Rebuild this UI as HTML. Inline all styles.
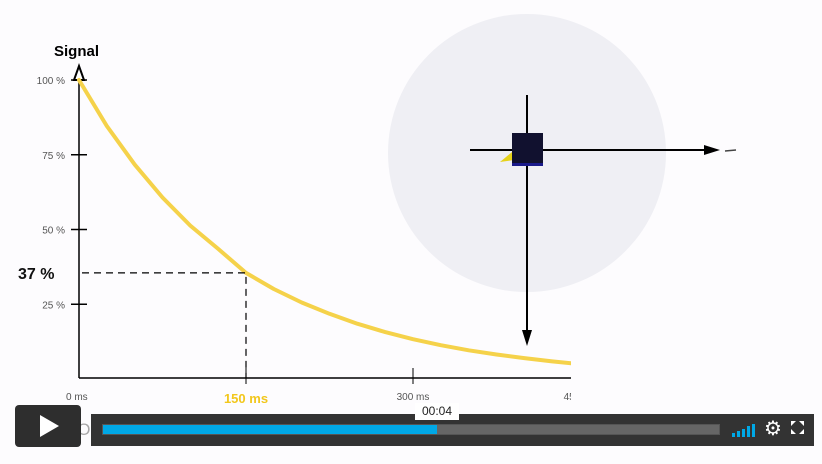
<!DOCTYPE html>
<html><head><meta charset="utf-8"><style>
body{margin:0;width:822px;height:464px;background:#fdfcfe;overflow:hidden;font-family:"Liberation Sans",sans-serif;position:relative}
</style></head><body>
<svg width="822" height="464" style="position:absolute;left:0;top:0">
<defs><clipPath id="clip"><rect x="0" y="0" width="571" height="410"/></clipPath></defs>
<circle cx="527" cy="153" r="139" fill="#efeff4"/>
<g id="chart" clip-path="url(#clip)"></g>
<g>
<line x1="527" y1="95" x2="527" y2="338" stroke="#000" stroke-width="2"/>
<polygon points="522,330 532,330 527,346" fill="#000"/>
<line x1="470" y1="150" x2="708" y2="150" stroke="#000" stroke-width="2"/>
<polygon points="704,145 720,150 704,155" fill="#000"/>
<line x1="725" y1="151" x2="736" y2="150" stroke="#444" stroke-width="1.5"/>
<polygon points="500,162 512,152 514,160" fill="#e6d21a"/>
<rect x="512" y="133" width="31" height="33" fill="#11112f"/>
<rect x="512" y="163" width="31" height="3" fill="#1a1a8a"/>
</g>
</svg>
<div style="position:absolute;left:25px;top:420px;font-size:17px;color:#555;opacity:.5">© IMAIOS 2015</div>
<div style="position:absolute;left:15px;top:405px;width:66px;height:42px;background:#2e2e2e;border-radius:4px">
<div style="position:absolute;left:25px;top:10px;border-left:19px solid #fff;border-top:11px solid transparent;border-bottom:11px solid transparent"></div></div>
<div style="position:absolute;left:91px;top:414px;width:723px;height:32px;background:#333"></div>
<div style="position:absolute;left:102px;top:424px;width:618px;height:11px;background:#666;border:1px solid #555;box-sizing:border-box"></div>
<div style="position:absolute;left:103px;top:425px;width:334px;height:9px;background:#00a8e6"></div>
<div style="position:absolute;left:415px;top:403px;width:44px;height:17px;background:#fff;font-size:12px;color:#222;text-align:center;line-height:17px">00:04</div>
<div style="position:absolute;left:732px;top:424px;width:24px;height:13px">
<div style="position:absolute;left:0;bottom:0;width:3px;height:4px;background:#00a8e6"></div>
<div style="position:absolute;left:5px;bottom:0;width:3px;height:6px;background:#00a8e6"></div>
<div style="position:absolute;left:10px;bottom:0;width:3px;height:8px;background:#00a8e6"></div>
<div style="position:absolute;left:15px;bottom:0;width:3px;height:11px;background:#00a8e6"></div>
<div style="position:absolute;left:20px;bottom:0;width:3px;height:13px;background:#00a8e6"></div></div>
<div style="position:absolute;left:764px;top:419px;font-size:20px;color:#fff;line-height:20px">⚙</div>
<div style="position:absolute;left:791px;top:421px;width:13px;height:13px;border:0">
<svg width="13" height="13"><path d="M0 0h5L0 5zM13 0h-5l5 5zM0 13h5L0 8zM13 13h-5l5-5z" fill="#fff"/></svg></div>
<script>
const yTicks=[100,75,50,25];
const xTicks=[0,150,300,450];
const tau=[150];
const highlightValue=[37];
const curveTimes=[0,25,50,75,100,125,150,175,200,225,250,275,300,325,350,375,400,425,450];
const curveValues=[100,84.6,71.7,60.7,51.3,43.5,35.5,30.1,25.6,21.8,18.5,15.7,13.3,11.3,9.6,8.2,7,5.9,5];
const X=t=>79+t*(167/150);
const Y=v=>379-v*2.99;
const g=document.getElementById('chart');
const NS='http://www.w3.org/2000/svg';
function mk(tag,attrs){const e=document.createElementNS(NS,tag);for(const k in attrs)e.setAttribute(k,attrs[k]);g.appendChild(e);return e;}
let ax=mk('path',{d:`M79 378V72M79 378H600`,stroke:'#000','stroke-width':1.5,fill:'none'});


let ar=mk('polygon',{points:'74,80 84,80 79,66',fill:'#fff',stroke:'#000','stroke-width':2});


let tt=mk('text',{x:54,y:56,'font-size':15,'font-weight':'bold',fill:'#000'});tt.textContent='Signal';


yTicks.forEach(v=>{
 const l=mk('line',{x1:71,x2:87,y1:Y(v),y2:Y(v),stroke:'#000','stroke-width':1.5});
 
 
 const t=mk('text',{x:65,y:Y(v)+4,'font-size':10,fill:'#555','text-anchor':'end'});t.textContent=v+' %';
 
 
});
xTicks.forEach(v=>{
 if(v>0){const l=mk('line',{x1:X(v),x2:X(v),y1:368,y2:384,stroke:'#000','stroke-width':1});
 
 }
 const hl=v===tau[0];
 const t=mk('text',{x:X(v)+(v===0?-13:0),y:hl?403:400,'font-size':hl?13:10,'font-weight':hl?'bold':'normal',fill:hl?'#f2c71c':'#555','text-anchor':v===0?'start':'middle'});t.textContent=v+' ms';
 
 
});
let d='';curveTimes.forEach((t,i)=>{d+=(i?'L':'M')+X(t).toFixed(1)+' '+Y(curveValues[i]).toFixed(1);});
let c=mk('path',{d:d,stroke:'#f5d24a','stroke-width':4,fill:'none','stroke-linecap':'round','stroke-linejoin':'round'});


const hy=Y(curveValues[curveTimes.indexOf(tau[0])]);
let dl=mk('path',{d:`M82 ${hy}H${X(tau[0])}V378`,stroke:'#000','stroke-width':1.2,fill:'none','stroke-dasharray':'7 5'});


let hv=mk('text',{x:18,y:hy+6,'font-size':16,'font-weight':'bold',fill:'#111'});hv.textContent=highlightValue[0]+' %';


</script>
</body></html>
